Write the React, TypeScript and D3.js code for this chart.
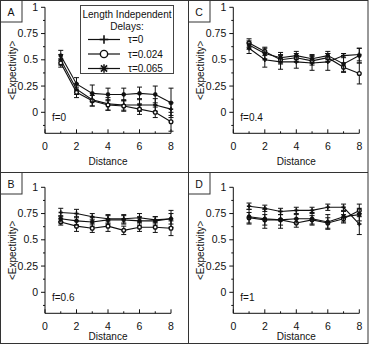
import React from 'react';
import * as d3 from 'd3';

const distances = [1, 2, 3, 4, 5, 6, 7, 8];
const seriesNames = ['τ=0', 'τ=0.024', 'τ=0.065'];
const yMajorTicks = [0, 0.25, 0.5, 0.75, 1];
const yMinorTicks = [-0.125, 0.125, 0.375, 0.625, 0.875];
const xMajorTicks = [0, 2, 4, 6, 8];
const xMinorTicks = [1, 3, 5, 7];

// panel A, f=0
const plusA = [0.5, 0.22, 0.12, 0.08, 0.07, 0.07, 0.07, 0.03];
const circA = [0.47, 0.19, 0.11, 0.07, 0.06, 0.03, 0.0, -0.09];
const starA = [0.54, 0.27, 0.18, 0.17, 0.17, 0.18, 0.17, 0.09];
const errPlusA = [0.05, 0.05, 0.06, 0.06, 0.05, 0.06, 0.06, 0.06];
const errCircA = [0.04, 0.05, 0.05, 0.05, 0.05, 0.05, 0.05, 0.09];
const errStarA = [0.05, 0.06, 0.08, 0.06, 0.06, 0.06, 0.08, 0.14];

// panel C, f=0.4
const plusC = [0.61, 0.5, 0.48, 0.48, 0.47, 0.48, 0.54, 0.55];
const circC = [0.66, 0.58, 0.5, 0.52, 0.49, 0.52, 0.43, 0.37];
const starC = [0.64, 0.56, 0.52, 0.54, 0.51, 0.54, 0.46, 0.54];
const errPlusC = [0.05, 0.07, 0.07, 0.06, 0.07, 0.08, 0.02, 0.06];
const errCircC = [0.04, 0.04, 0.04, 0.04, 0.04, 0.04, 0.04, 0.1];
const errStarC = [0.04, 0.05, 0.05, 0.04, 0.04, 0.04, 0.08, 0.07];

// panel B, f=0.6
const plusB = [0.76, 0.75, 0.72, 0.7, 0.7, 0.71, 0.69, 0.7];
const circB = [0.67, 0.63, 0.61, 0.63, 0.59, 0.62, 0.62, 0.61];
const starB = [0.7, 0.68, 0.67, 0.69, 0.69, 0.68, 0.68, 0.7];
const errPlusB = [0.04, 0.04, 0.03, 0.04, 0.04, 0.04, 0.03, 0.08];
const errCircB = [0.03, 0.05, 0.04, 0.05, 0.04, 0.04, 0.05, 0.07];
const errStarB = [0.03, 0.04, 0.04, 0.04, 0.04, 0.04, 0.04, 0.05];

// panel D, f=1
const plusD = [0.82, 0.8, 0.77, 0.78, 0.78, 0.81, 0.81, 0.65];
const circD = [0.71, 0.69, 0.69, 0.66, 0.69, 0.66, 0.7, 0.78];
const starD = [0.72, 0.7, 0.69, 0.7, 0.7, 0.67, 0.72, 0.74];
const errPlusD = [0.03, 0.03, 0.03, 0.03, 0.03, 0.03, 0.03, 0.1];
const errCircD = [0.05, 0.05, 0.05, 0.04, 0.04, 0.05, 0.04, 0.06];
const errStarD = [0.07, 0.09, 0.08, 0.04, 0.06, 0.07, 0.05, 0.06];

const font = '"Liberation Sans", Arial, sans-serif';
const ink = '#111';

const Marker = ({ kind, x, y, s }) => {
  if (kind === 'plus') {
    return (
      <g stroke={ink} strokeWidth={1.6}>
        <line x1={x - s} x2={x + s} y1={y} y2={y} />
        <line x1={x} x2={x} y1={y - s} y2={y + s} />
      </g>
    );
  }
  if (kind === 'circle') {
    return <circle cx={x} cy={y} r={s * 0.85} fill="white" stroke={ink} strokeWidth={1.4} />;
  }
  const d = s * 0.72;
  return (
    <g stroke={ink} strokeWidth={1.5}>
      <line x1={x - s} x2={x + s} y1={y} y2={y} />
      <line x1={x} x2={x} y1={y - s} y2={y + s} />
      <line x1={x - d} x2={x + d} y1={y - d} y2={y + d} />
      <line x1={x - d} x2={x + d} y1={y + d} y2={y - d} />
    </g>
  );
};

const kinds = ['plus', 'circle', 'star'];

const Panel = ({ ox, oy, series, errors, label, fLabel, bx, by, labelBottom, titleBottom, legend }) => {
  const x = d3.scaleLinear().domain([0, 8]).range([ox, ox + 126]);
  const y = d3.scaleLinear().domain([-0.2, 1]).range([oy + 126, oy]);
  const line = d3.line().x((d) => x(d[0])).y((d) => y(d[1]));
  const yBase = y(-0.2);
  return (
    <g fontFamily={font} fill={ink}>
      <rect x={bx + 0.5} y={by + 0.5} width={21.5} height={21.5} fill="white" stroke="#333" />
      <text x={bx + 11} y={by + 16} fontSize={10.5} textAnchor="middle">{label}</text>

      <line x1={x(0)} x2={x(0)} y1={yBase} y2={y(1)} stroke={ink} />
      <line x1={x(0)} x2={x(8)} y1={yBase} y2={yBase} stroke={ink} />
      {yMajorTicks.map((t) => (
        <g key={'ym' + t}>
          <line x1={x(0) - 4} x2={x(0)} y1={y(t)} y2={y(t)} stroke={ink} />
          <text x={x(0) - 7} y={y(t)} dy="0.35em" fontSize={10.5} textAnchor="end">{t}</text>
        </g>
      ))}
      {yMinorTicks.map((t) => (
        <line key={'yn' + t} x1={x(0) - 2} x2={x(0)} y1={y(t)} y2={y(t)} stroke={ink} />
      ))}
      {xMajorTicks.map((t) => (
        <g key={'xm' + t}>
          <line x1={x(t)} x2={x(t)} y1={yBase} y2={yBase - 4} stroke={ink} />
          <text x={x(t)} y={labelBottom} fontSize={10.5} textAnchor="middle">{t}</text>
        </g>
      ))}
      {xMinorTicks.map((t) => (
        <line key={'xn' + t} x1={x(t)} x2={x(t)} y1={yBase} y2={yBase - 2} stroke={ink} />
      ))}
      <text x={x(4)} y={titleBottom} fontSize={10} textAnchor="middle">Distance</text>
      <text
        transform={`translate(${ox - 33},${(y(1) + yBase) / 2}) rotate(-90)`}
        dy="0.35em"
        fontSize={10}
        textAnchor="middle"
      >
        {'<Expectivity>'}
      </text>
      <text x={x(0) + 7} y={y(-0.08)} fontSize={10}>{fLabel}</text>

      {series.map((vals, si) => (
        <g key={'s' + si}>
          <path d={line(distances.map((d, i) => [d, vals[i]]))} fill="none" stroke={ink} strokeWidth={1.1} />
          {distances.map((d, i) => {
            const e = errors[si][i];
            return (
              <g key={i} stroke={ink} strokeWidth={1}>
                <line x1={x(d)} x2={x(d)} y1={y(vals[i] - e)} y2={y(vals[i] + e)} />
                <line x1={x(d) - 2.5} x2={x(d) + 2.5} y1={y(vals[i] - e)} y2={y(vals[i] - e)} />
                <line x1={x(d) - 2.5} x2={x(d) + 2.5} y1={y(vals[i] + e)} y2={y(vals[i] + e)} />
              </g>
            );
          })}
          {distances.map((d, i) => (
            <Marker key={'m' + i} kind={kinds[si]} x={x(d)} y={y(vals[i])} s={2.2} />
          ))}
        </g>
      ))}

      {legend && (
        <g>
          <rect x={80.5} y={5.5} width={93} height={68} fill="white" stroke="#444" />
          <text x={127} y={18} fontSize={10} textAnchor="middle">Length Independent</text>
          <text x={127} y={30} fontSize={10} textAnchor="middle">Delays:</text>
          {seriesNames.map((n, i) => (
            <g key={n}>
              <line x1={88} x2={120} y1={39.5 + i * 14.5} y2={39.5 + i * 14.5} stroke={ink} strokeWidth={1.2} />
              <Marker kind={kinds[i]} x={104} y={39.5 + i * 14.5} s={4.3} />
              <text x={128} y={39.5 + i * 14.5} dy="0.35em" fontSize={10}>{n}</text>
            </g>
          ))}
        </g>
      )}
    </g>
  );
};

export default function App() {
  return (
    <div style={{ position: 'absolute', left: 0, top: 0 }}>
      <svg width={369} height={345} style={{ display: 'block', background: 'white' }}>
        <rect x={0.5} y={0.5} width={367.5} height={343} fill="white" stroke="#333" />
        <line x1={188.5} x2={188.5} y1={0} y2={344} stroke="#333" />
        <line x1={0} x2={368} y1={172.5} y2={172.5} stroke="#333" />
        <Panel
          ox={45} oy={7.3} label="A" fLabel="f=0" bx={0} by={0}
          labelBottom={150} titleBottom={165} legend
          series={[plusA, circA, starA]} errors={[errPlusA, errCircA, errStarA]}
        />
        <Panel
          ox={233.3} oy={7.3} label="C" fLabel="f=0.4" bx={188} by={0}
          labelBottom={150} titleBottom={165}
          series={[plusC, circC, starC]} errors={[errPlusC, errCircC, errStarC]}
        />
        <Panel
          ox={45} oy={187.3} label="B" fLabel="f=0.6" bx={0} by={172}
          labelBottom={330} titleBottom={340}
          series={[plusB, circB, starB]} errors={[errPlusB, errCircB, errStarB]}
        />
        <Panel
          ox={233.3} oy={187.3} label="D" fLabel="f=1" bx={188} by={172}
          labelBottom={330} titleBottom={340}
          series={[plusD, circD, starD]} errors={[errPlusD, errCircD, errStarD]}
        />
      </svg>
    </div>
  );
}
